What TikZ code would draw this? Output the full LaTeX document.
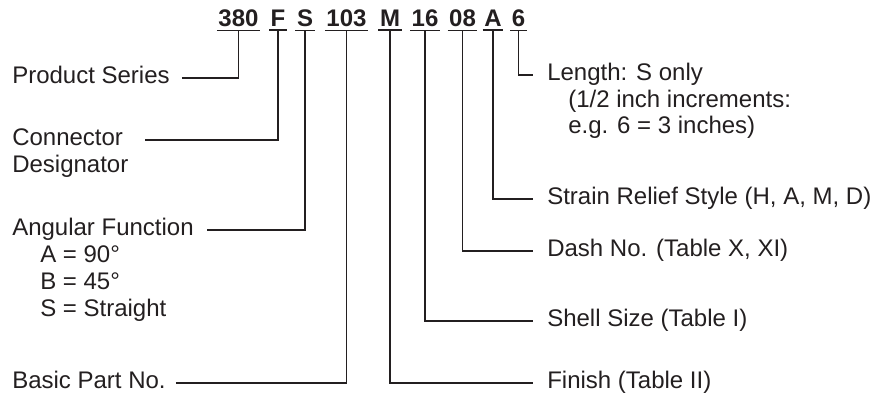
\documentclass[tikz,border=0pt]{standalone}
\usepackage{fontspec}
\setmainfont{Liberation Sans}
\usepackage{xcolor}
\definecolor{ink}{RGB}{35,31,32}

\tikzset{
	code/.style={anchor=base,inner xsep=1pt,inner ysep=3pt,
		font=\fontsize{18}{24}\selectfont\bfseries},
	lbl/.style={anchor=base west,inner sep=0pt,text height=0.75em,text depth=0pt},
	lead/.style={draw=ink,line width=1.4pt}
}

\begin{document}
\begin{tikzpicture}[x=0.75pt,y=-0.75pt,
		every node/.style={text=ink,font=\fontsize{18}{24}\selectfont}]
	\useasboundingbox (0,0) rectangle (887,394);
	
	% part number
	\node[code] (c380) at (238.5,26) {380};
	\node[code] (cF) at (278,26) {F};
	\node[code] (cS) at (305,26) {S};
	\node[code] (c103) at (346.5,26) {103};
	\node[code] (cM) at (390,26) {M};
	\node[code] (c16) at (425,26) {16};
	\node[code] (c08) at (462.5,26) {08};
	\node[code] (cA) at (493,26) {A};
	\node[code] (c6) at (518.5,26) {6};
	
	% left side
	\begin{scope}[every node/.append style={lbl}]
		\node (ps) at (12,83) {Product Series};
		\node (cd) at (12,145) {Connector};
		\node (cd2) at (12,172) {Designator};
		\node (af) at (12,235) {Angular Function};
		\node (af1) at (40,262) {A = 90°};
		\node (af2) at (40,289) {B = 45°};
		\node (af3) at (40,316) {S = Straight};
		\node (bp) at (12,388) {Basic Part No.};
	\end{scope}
	
	% right side
	\begin{scope}[every node/.append style={lbl}]
		\node (le) at (547,80) {Length: S only};
		\node (le1) at (568,107) {(1/2 inch increments:};
		\node (le2) at (568,133) {e.g. 6 = 3 inches)};
		\node (sr) at (547,204) {Strain Relief Style (H, A, M, D)};
		\node (dn) at (547,256) {Dash No. (Table X, XI)};
		\node (ss) at (547,326) {Shell Size (Table I)};
		\node (fi) at (547,388) {Finish (Table II)};
	\end{scope}
	
	\begin{scope}[every path/.style={lead}]
		\foreach \c in {c380,cF,cS,c103,cM,c16,c08,cA,c6}
			\draw (\c.south west) -- (\c.south east);
		
		\draw [shorten <=9pt] (ps.east) -| (c380.south);
		\draw [shorten <=16.5pt] (cd.east) -| (cF.south);
		\draw [shorten <=10pt] (af.east) -| (cS.south);
		\draw [shorten <=7.5pt] (bp.east) -| (c103.south);
		
		\draw [shorten >=10.5pt] (cM.south) |- (fi.west);
		\draw [shorten >=10.5pt] (c16.south) |- (ss.west);
		\draw [shorten >=10.5pt] (c08.south) |- (dn.west);
		\draw [shorten >=10.5pt] (cA.south) |- (sr.west);
		\draw [shorten >=10.5pt] (c6.south) |- (le.west);
	\end{scope}
\end{tikzpicture}
\end{document}
